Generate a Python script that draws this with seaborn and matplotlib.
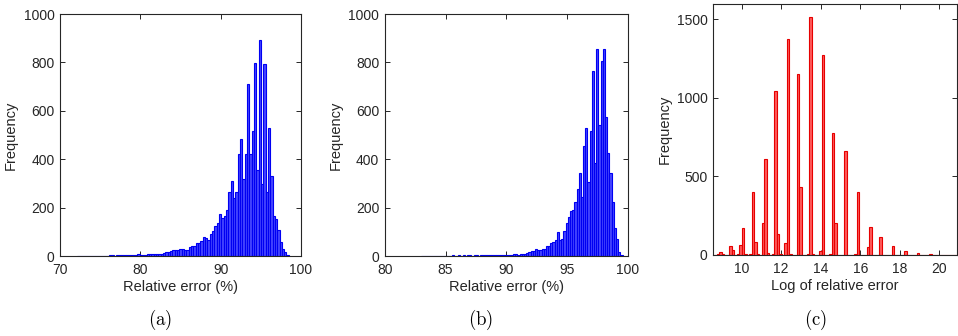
import numpy as np
import pandas as pd
import matplotlib
matplotlib.use("Agg")
import matplotlib.pyplot as plt
import seaborn as sns

# ---------------- data ----------------
# (a) relative error (%), histogram counts, bins of width 0.29 starting at 72.095
a_start, a_width = 72.095, 0.29
a_counts = [1, 0, 1, 1, 0, 1, 2, 1, 1, 2, 1, 2, 2, 1,
            4, 3, 2, 3, 3, 4, 4, 3, 5, 4, 5, 4, 10, 5, 4, 5,
            9, 10, 10, 9, 10, 7, 8, 12, 18, 17, 19, 25, 26, 24, 28,
            27, 25, 25, 36, 41, 41, 52, 52, 62, 80, 73, 66, 90, 102, 124,
            135, 172, 156, 165, 189, 266, 311, 238, 263,
            421, 482, 317, 421, 709, 422, 518, 796, 355, 892, 296, 792,
            263, 527, 331, 165, 153, 107, 59, 28, 15, 4]

# (b) relative error (%), bins of width 0.18 starting at 82.99
b_start, b_width = 82.99, 0.18
b_counts = [0, 1, 0, 1, 1, 1, 2, 1, 2, 1, 2, 2, 1, 2, 3, 2, 2, 3, 2, 3,
            2, 3, 3, 2, 3, 3, 2, 3, 3, 4, 3, 4, 5, 4, 3, 4, 5, 4,
            5, 6, 4, 6, 8, 7, 6, 7, 7, 8, 14, 18, 20, 22, 28, 25, 26, 28,
            30, 40, 43, 52, 58, 66, 98, 66, 70, 105, 135,
            162, 186, 190, 224, 275, 344, 245, 456, 527, 307, 518, 764,
            383, 855, 541, 805, 855, 575, 424, 341, 224, 114, 69, 18, 4]

# (c) log of relative error, bins of width 0.1266 starting at 8.606
c_start, c_width = 8.606, 0.1266
c_counts = [3, 5, 17, 4, 2, 3, 57, 32, 3, 4, 61, 172, 5, 3, 8, 398, 85, 4, 2,
            201, 608, 10, 3, 4, 1042, 133, 8, 2, 74, 1377, 6, 2, 3, 1150, 432,
            3, 2, 5, 1511, 4, 2, 3, 25, 1271, 3, 2, 4, 773, 201, 2, 3, 2, 661,
            2, 3, 2, 4, 403, 3, 2, 3, 49, 176, 2, 3, 2, 117, 3, 2, 2, 3, 59,
            2, 3, 2, 3, 28, 2, 3, 2, 3, 11, 2, 3, 2, 2, 6, 2, 3, 2, 2, 3, 2,
            2, 2, 3, 2, 2]

xlabels = ["Relative error (%)", "Relative error (%)", "Log of relative error"]
ylabel = "Frequency"
captions = ["(a)", "(b)", "(c)"]


def make_frame(start, width, counts):
    edges = start + width * np.arange(len(counts) + 1)
    centers = (edges[:-1] + edges[1:]) / 2
    return pd.DataFrame({"x": centers, "n": counts}), [float(e) for e in edges]


# ---------------- style ----------------
sns.set_theme(style="white")
plt.rcParams["font.family"] = ["Liberation Sans", "DejaVu Sans"]
plt.rcParams["mathtext.fontset"] = "cm"

W, H = 958, 336
fig = plt.figure(figsize=(W / 100, H / 100), dpi=100)

axes_px = [
    (60, 14, 301, 256),
    (384.7, 14, 628, 256),
    (713.3, 3.5, 957, 255),
]
axes = []
for (x0, y0, x1, y1) in axes_px:
    axes.append(fig.add_axes([x0 / W, 1 - y1 / H, (x1 - x0) / W, (y1 - y0) / H]))

specs = [
    (a_start, a_width, a_counts, (0.27, 0.27, 1.0), (0.0, 0.0, 0.95)),
    (b_start, b_width, b_counts, (0.27, 0.27, 1.0), (0.0, 0.0, 0.95)),
    (c_start, c_width, c_counts, (1.0, 0.36, 0.36), (0.9, 0.0, 0.0)),
]

for ax, (st, wd, cn, face, edge) in zip(axes, specs):
    df, edges = make_frame(st, wd, cn)
    sns.histplot(data=df, x="x", weights="n", bins=edges, ax=ax,
                 color=face, edgecolor=edge, linewidth=0.8, alpha=1.0)

axes[0].set_xlim(70, 100)
axes[0].set_xticks([70, 80, 90, 100])
axes[0].set_ylim(0, 1000)
axes[0].set_yticks(range(0, 1001, 200))

axes[1].set_xlim(80, 100)
axes[1].set_xticks([80, 85, 90, 95, 100])
axes[1].set_ylim(0, 1000)
axes[1].set_yticks(range(0, 1001, 200))

axes[2].set_xlim(8.56, 20.9)
axes[2].set_xticks([10, 12, 14, 16, 18, 20])
axes[2].set_ylim(0, 1600)
axes[2].set_yticks([0, 500, 1000, 1500])

axc = "#262626"
for ax, xl, cap in zip(axes, xlabels, captions):
    ax.set_xlabel(xl, fontsize=10.5, color=axc, labelpad=2)
    ax.set_ylabel(ylabel, fontsize=10.5, color=axc, labelpad=4)
    ax.tick_params(direction="in", length=3.5, width=0.7, colors=axc,
                   labelsize=10, top=True, right=True, bottom=True, left=True)
    ax.tick_params(axis="x", pad=5)
    ax.tick_params(axis="y", pad=4)
    for s in ax.spines.values():
        s.set_visible(True)
        s.set_color(axc)
        s.set_linewidth(0.8)
    ax.grid(False)

cap_x = [160, 481, 815]
for cx, cap in zip(cap_x, captions):
    fig.text(cx / W, 1 - 320 / H, r"$\mathrm{" + cap + "}$", ha="center",
             va="center", fontsize=13.5, color="black")

fig.savefig("out.png", dpi=100)
